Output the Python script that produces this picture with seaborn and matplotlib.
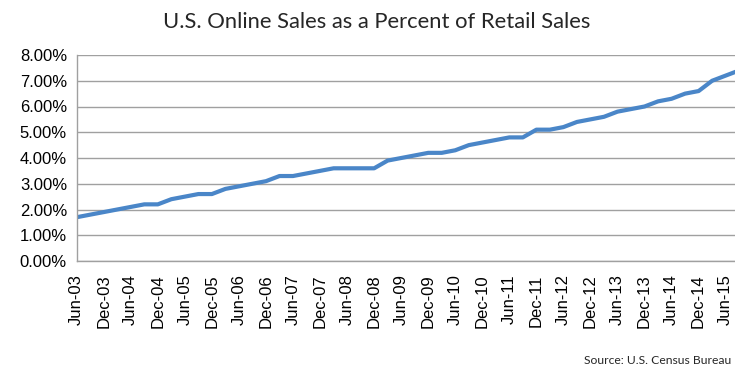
import matplotlib
matplotlib.use("Agg")
import matplotlib.pyplot as plt
import seaborn as sns
import pandas as pd
from matplotlib.ticker import FixedLocator, FuncFormatter

# Quarterly e-commerce share of total retail sales, Jun-03 through Sep-15 (percent)
years = ["03", "04", "05", "06", "07", "08", "09", "10", "11", "12", "13", "14", "15"]
share = [1.7, 1.8, 1.9, 2.0, 2.1, 2.2, 2.2, 2.4, 2.5, 2.6,
         2.6, 2.8, 2.9, 3.0, 3.1, 3.3, 3.3, 3.4, 3.5, 3.6,
         3.6, 3.6, 3.6, 3.9, 4.0, 4.1, 4.2, 4.2, 4.3, 4.5,
         4.6, 4.7, 4.8, 4.8, 5.1, 5.1, 5.2, 5.4, 5.5, 5.6,
         5.8, 5.9, 6.0, 6.2, 6.3, 6.5, 6.6, 7.0, 7.2, 7.4]
tick_labels = [f"{m}-{y}" for y in years for m in ("Jun", "Dec")][:25]
y_ticks = [0, 1, 2, 3, 4, 5, 6, 7, 8]

df = pd.DataFrame({"quarter": range(len(share)), "share": share})

sns.set_style("white")
plt.rcParams["font.family"] = ["Liberation Sans", "DejaVu Sans"]

W, H = 735, 368
fig = plt.figure(figsize=(W / 100, H / 100), dpi=100)
left, bottom, top = 76.7, 261.0, 55.0
step = 13.52
ax = fig.add_axes([left / W, (H - bottom) / H, 49 * step / W, (bottom - top) / H])

sns.lineplot(data=df, x="quarter", y="share", ax=ax, color="#4A86C8",
             linewidth=3.0, solid_joinstyle="round", solid_capstyle="round")

ax.set_xlim(0, 49)
ax.set_ylim(0, 8)
ax.yaxis.set_major_locator(FixedLocator(y_ticks))
ax.yaxis.set_major_formatter(FuncFormatter(lambda v, p: f"{v:.2f}%"))
ax.xaxis.set_major_locator(FixedLocator(list(range(0, 49, 2))))
ax.set_xticklabels(tick_labels, rotation=90)
ax.set_xlabel("")
ax.set_ylabel("")

grid_c = "#a0a0a0"
ax.grid(axis="y", color=grid_c, linewidth=1.0)
ax.grid(axis="x", visible=False)
ax.set_axisbelow(True)
for side in ("top", "right"):
    ax.spines[side].set_visible(False)
for side in ("left", "bottom"):
    ax.spines[side].set_color(grid_c)
    ax.spines[side].set_linewidth(1.0)

ax.tick_params(axis="both", which="major", direction="out", length=4,
               width=1.0, color=grid_c, labelsize=12, labelcolor="black")
ax.tick_params(axis="x", pad=5.5)
ax.tick_params(axis="y", pad=3)

fig.text(0.512, 1 - 22 / H, "U.S. Online Sales as a Percent of Retail Sales",
         ha="center", va="center", fontsize=15.8, family=["Lato", "DejaVu Sans"])
fig.text(731 / W, 1 - 361 / H, "Source: U.S. Census Bureau",
         ha="right", va="center", fontsize=8.7, family=["Lato", "DejaVu Sans"])

fig.savefig("out.png", dpi=100)
